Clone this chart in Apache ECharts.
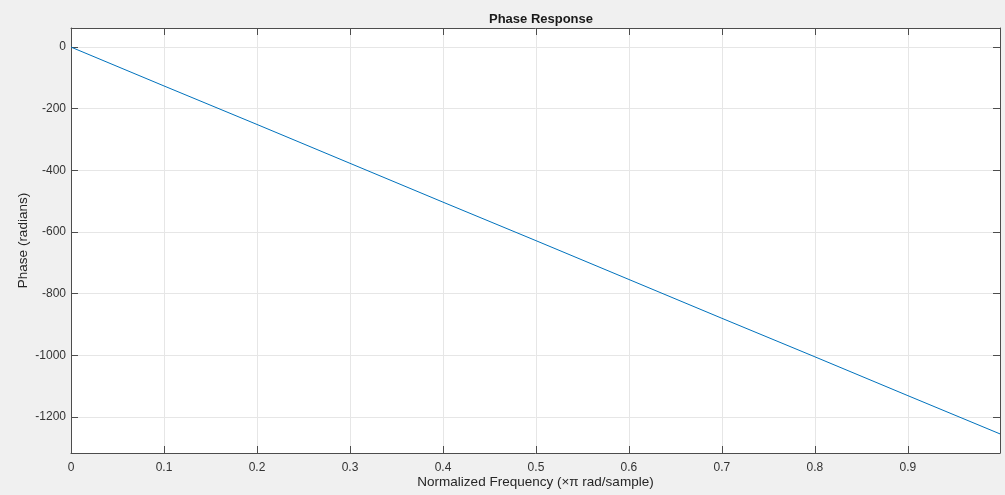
<!DOCTYPE html>
<html>
<head>
<meta charset="utf-8">
<script src="https://cdn.jsdelivr.net/npm/echarts@6/dist/echarts.min.js"></script>
<style>
  html,body{margin:0;padding:0;background:#f0f0f0;}
  #main{width:1005px;height:495px;}
</style>
</head>
<body>
<div id="main"></div>
<script>
// normalized frequency (x pi rad/sample) and unwrapped phase
var freq = [0, 0.1, 0.2, 0.3, 0.4, 0.5, 0.6, 0.7, 0.8, 0.9, 0.999];
var phase = [0, -126, -251, -377, -503, -628, -754, -880, -1005, -1131, -1255];

// tick values
var xTicks = [0, 0.1, 0.2, 0.3, 0.4, 0.5, 0.6, 0.7, 0.8, 0.9];
var yTicks = [-1200, -1000, -800, -600, -400, -200, 0];

var xMin = 0, xMax = 0.999;
var yMin = -1317, yMax = 62;

var chart = echarts.init(document.getElementById('main'));

var font = 'Liberation Sans, Arial, sans-serif';
var axisColor = '#4d4d4d';
var gridColor = '#e6e6e6';
var labelColor = '#333';

function plain(v) { return String(v); }

var option = {
  backgroundColor: '#f0f0f0',
  animation: false,
  title: {
    text: 'Phase Response',
    left: 536,
    top: 8,
    textAlign: 'center',
    textStyle: {fontFamily: font, fontSize: 13, fontWeight: 'bold', color: '#1a1a1a'}
  },
  grid: {
    left: 71, right: 5, top: 28, bottom: 42,
    outerBoundsMode: 'none', containLabel: false,
    show: true, backgroundColor: '#fff', borderWidth: 0
  },
  xAxis: [{
    type: 'value', min: xMin, max: xMax,
    name: 'Normalized Frequency (\u00d7\u03c0 rad/sample)',
    nameLocation: 'middle', nameGap: 22, nameMoveOverlap: false,
    nameTextStyle: {fontFamily: font, fontSize: 13.5, color: '#262626'},
    axisLine: {show: true, onZero: false, lineStyle: {color: axisColor, width: 1}},
    axisTick: {show: true, inside: true, length: 7, customValues: xTicks, lineStyle: {color: axisColor}},
    axisLabel: {fontFamily: font, fontSize: 12, color: labelColor, margin: 9, customValues: xTicks, formatter: plain},
    splitLine: {show: true, lineStyle: {color: gridColor, width: 1}}
  }, {
    type: 'value', min: xMin, max: xMax, position: 'top',
    axisLine: {show: true, onZero: false, lineStyle: {color: axisColor, width: 1}},
    axisTick: {show: true, inside: true, length: 7, customValues: xTicks, lineStyle: {color: axisColor}},
    axisLabel: {show: false},
    splitLine: {show: false}
  }],
  yAxis: [{
    type: 'value', min: yMin, max: yMax,
    name: 'Phase (radians)',
    nameLocation: 'middle', nameGap: 41, nameRotate: 90, nameMoveOverlap: false,
    nameTextStyle: {fontFamily: font, fontSize: 13.5, color: '#262626'},
    axisLine: {show: true, onZero: false, lineStyle: {color: axisColor, width: 1}},
    axisTick: {show: true, inside: true, length: 7, customValues: yTicks, lineStyle: {color: axisColor}},
    axisLabel: {fontFamily: font, fontSize: 12, color: labelColor, margin: 5, customValues: yTicks, formatter: plain},
    splitLine: {show: true, lineStyle: {color: gridColor, width: 1}}
  }, {
    type: 'value', min: yMin, max: yMax, position: 'right',
    axisLine: {show: true, onZero: false, lineStyle: {color: axisColor, width: 1}},
    axisTick: {show: true, inside: true, length: 7, customValues: yTicks, lineStyle: {color: axisColor}},
    axisLabel: {show: false},
    splitLine: {show: false}
  }],
  series: [{
    type: 'line',
    data: freq.map(function (f, i) { return [f, phase[i]]; }),
    showSymbol: false,
    lineStyle: {color: '#0072bd', width: 1},
    xAxisIndex: 0, yAxisIndex: 0
  }]
};

chart.setOption(option);
</script>
</body>
</html>
